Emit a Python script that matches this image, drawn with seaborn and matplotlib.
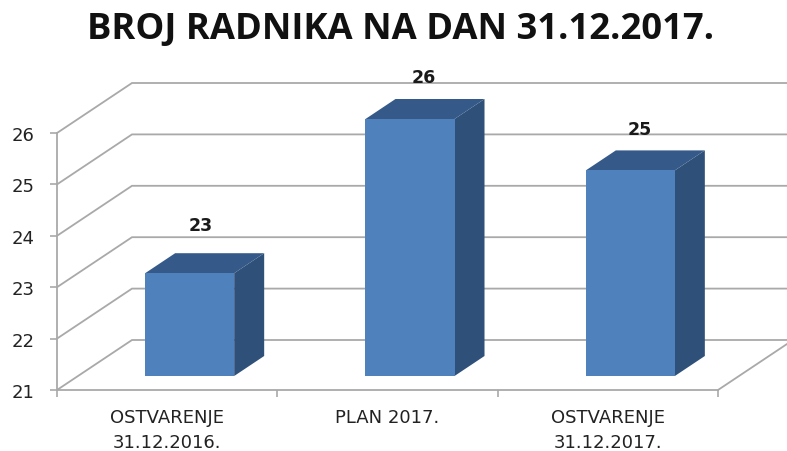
import matplotlib
matplotlib.use('Agg')
import matplotlib.pyplot as plt
from matplotlib.patches import Polygon
from matplotlib.transforms import Affine2D
import pandas as pd
import seaborn as sns

categories = ['OSTVARENJE\n31.12.2016.', 'PLAN 2017.', 'OSTVARENJE\n31.12.2017.']
values = [23, 26, 25]
y_ticks = [21, 22, 23, 24, 25, 26]
y_base = 21

df = pd.DataFrame({'kategorija': categories, 'radnika': values})
df['visina'] = df['radnika'] - y_base

sns.set_theme(style='white')
plt.rcParams['font.family'] = ['DejaVu Sans']

W, H = 787, 452
fig = plt.figure(figsize=(W / 100, H / 100), dpi=100)
ax = fig.add_axes([57 / W, (H - 391) / H, 661 / W, 257 / H])

sns.barplot(data=df, x='kategorija', y='visina', color='#4f81bd', saturation=1,
            width=0.404, bottom=y_base, ax=ax, zorder=4)
ax.set_xlim(-0.5, 2.5)
ax.set_ylim(21, 26)
ax.set_xlabel('')
ax.set_ylabel('')

# pixel size of one data unit, needed for the fake 3d depth
ux = 661 / 3
uy = 257 / 5
wall_dx, wall_dy = 75 / ux, 50 / uy
bar_dx, bar_dy = 30 / ux, 20 / uy
grid_col = '#a9a9a9'

# back wall and floor
for t in y_ticks:
    ax.plot([-0.5, -0.5 + wall_dx, 3], [t, t + wall_dy, t + wall_dy], color=grid_col,
            lw=1.3, clip_on=False, zorder=1, solid_joinstyle='miter')
ax.plot([2.5, 2.5 + wall_dx], [21, 21 + wall_dy], color=grid_col, lw=1.3, clip_on=False, zorder=1)

# bars stand a bit behind the front edge of the floor
plane = ax.transData + Affine2D().translate(22.5, 14)
for bar in list(ax.patches):
    bar.set_transform(plane)
    bar.set_clip_on(False)
    bar.set_edgecolor('none')
    x0 = bar.get_x()
    x1 = x0 + bar.get_width()
    top = bar.get_y() + bar.get_height()
    base = bar.get_y()
    side = Polygon([(x1, base), (x1 + bar_dx, base + bar_dy), (x1 + bar_dx, top + bar_dy), (x1, top)],
                   facecolor='#2f5078', edgecolor='none', transform=plane, clip_on=False, zorder=3)
    lid = Polygon([(x0, top), (x0 + bar_dx, top + bar_dy), (x1 + bar_dx, top + bar_dy), (x1, top)],
                  facecolor='#355a8a', edgecolor='none', transform=plane, clip_on=False, zorder=3)
    ax.add_patch(side)
    ax.add_patch(lid)

# value labels
label_dx = [11.5, 14, 9]
label_dy = [48, 42, 41]
for i, v in enumerate(values):
    ax.annotate(str(v), (i, v), xycoords=plane, xytext=(label_dx[i] * 0.72, label_dy[i] * 0.72),
                textcoords='offset points', ha='center', va='center', fontsize=12.5,
                fontweight='bold', color='#1a1a1a', annotation_clip=False, zorder=6)

for s in ['top', 'right']:
    ax.spines[s].set_visible(False)
for s in ['left', 'bottom']:
    ax.spines[s].set_color(grid_col)
    ax.spines[s].set_linewidth(1.3)

ax.set_yticks(y_ticks)
ax.tick_params(axis='y', left=True, length=5, width=1.2, color=grid_col, labelsize=13,
               labelcolor='#222222', pad=11)
ax.set_xticks([0, 1, 2])
ax.set_xticks([0.5, 1.5, 2.5, -0.5], minor=True)
ax.tick_params(axis='x', which='major', bottom=False, labelsize=13, labelcolor='#222222', pad=7)
ax.tick_params(axis='x', which='minor', bottom=True, length=5, width=1.2, color=grid_col)
for lab in ax.get_xticklabels():
    lab.set_linespacing(1.5)

fig.text(401 / W, (H - 30) / H, 'BROJ RADNIKA NA DAN 31.12.2017.', ha='center', va='center',
         fontsize=26.2, fontweight='bold', family='Open Sans', color='#111111')

fig.savefig('out.png', dpi=100)
